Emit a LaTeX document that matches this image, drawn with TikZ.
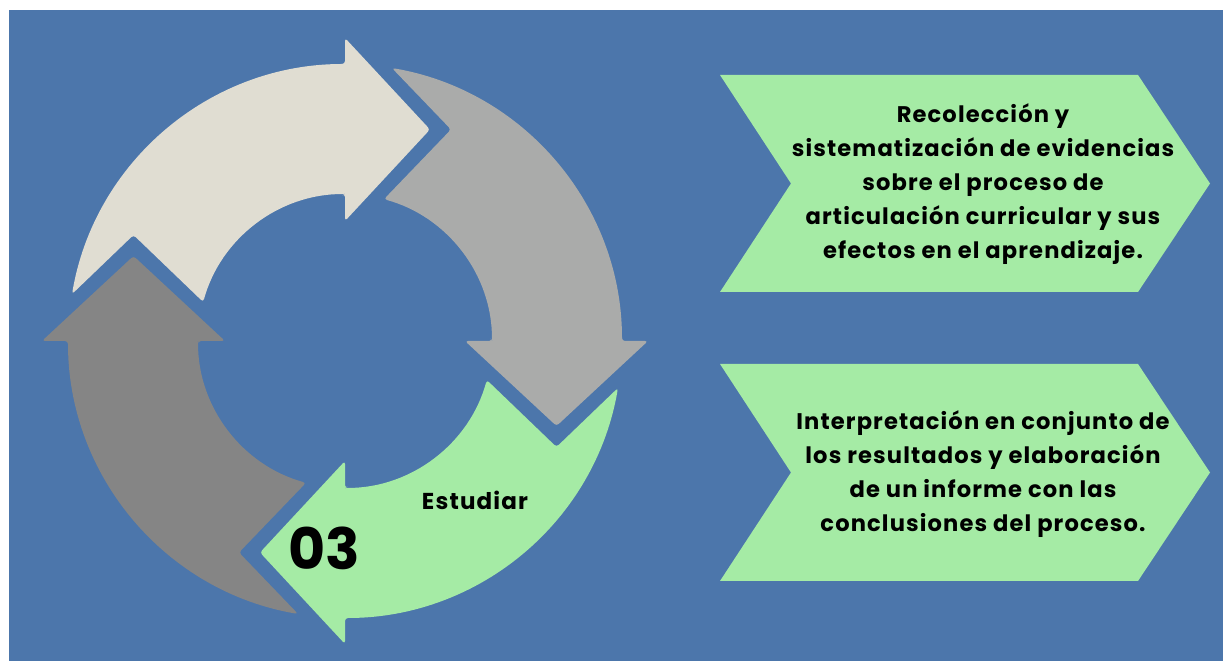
\documentclass[tikz,border=0pt]{standalone}
\usepackage{fontspec}
\setmainfont{Poppins}
\newfontfamily\widefont{Poppins}[LetterSpace=5]
\definecolor{bgblue}{RGB}{76,118,171}
\definecolor{beige}{RGB}{224,221,210}
\definecolor{lgrey}{RGB}{170,171,170}
\definecolor{dgrey}{RGB}{133,133,133}
\definecolor{chgreen}{RGB}{165,235,165}
\tikzset{
  cycarrow/.pic={
    \fill[pic actions, rounded corners=3pt]
      (0,147) -- (0,120) -- (85,211.5) -- (0,303) -- (0,277)
      arc[start angle=90, end angle=170.25, radius=277pt]
      -- (-211.5,106) -- (-141.8,39)
      arc[start angle=164.6, end angle=90, radius=147pt] -- cycle;
  },
  chev/.style={fill=chgreen},
  chevtext/.style={align=center, inner sep=0pt, font=\widefont\fontsize{22.6}{34}\selectfont\bfseries},
}
\begin{document}
\begin{tikzpicture}[x=1pt,y=1pt]
\useasboundingbox (0,0) rectangle (1223,661);
\fill[white] (0,0) rectangle (1223,661);
\fill[bgblue] (9,0) rectangle (1223,651);
% cycle of arrows
\pic[fill=beige] at (345,320) {cycarrow};
\pic[fill=lgrey, rotate=-90] at (345,320) {cycarrow};
\pic[fill=chgreen, rotate=180] at (345,320) {cycarrow};
\pic[fill=dgrey, rotate=90] at (345,320) {cycarrow};
\node[inner sep=0pt, font=\fontsize{57}{57}\selectfont\bfseries] (num) at (324,113) {03};
\node[inner sep=0pt, font=\widefont\fontsize{23}{26}\selectfont\bfseries] (lbl) at (475,161) {Estudiar};
% chevrons
\fill[chev] (720,586) -- (1138,586) -- (1210,477.5) -- (1138,369) -- (720,369) -- (791,477.5) -- cycle;
\fill[chev] (720,297) -- (1138,297) -- (1210,188.5) -- (1138,80) -- (720,80) -- (791,188.5) -- cycle;
\node[chevtext] (t1) at (983,476.5) {Recolección y\\sistematización de evidencias\\sobre el proceso de\\articulación curricular y sus\\efectos en el aprendizaje.};
\node[chevtext] (t2) at (983,187) {Interpretación en conjunto de\\los resultados y elaboración\\de un informe con las\\conclusiones del proceso.};
\end{tikzpicture}
\end{document}
